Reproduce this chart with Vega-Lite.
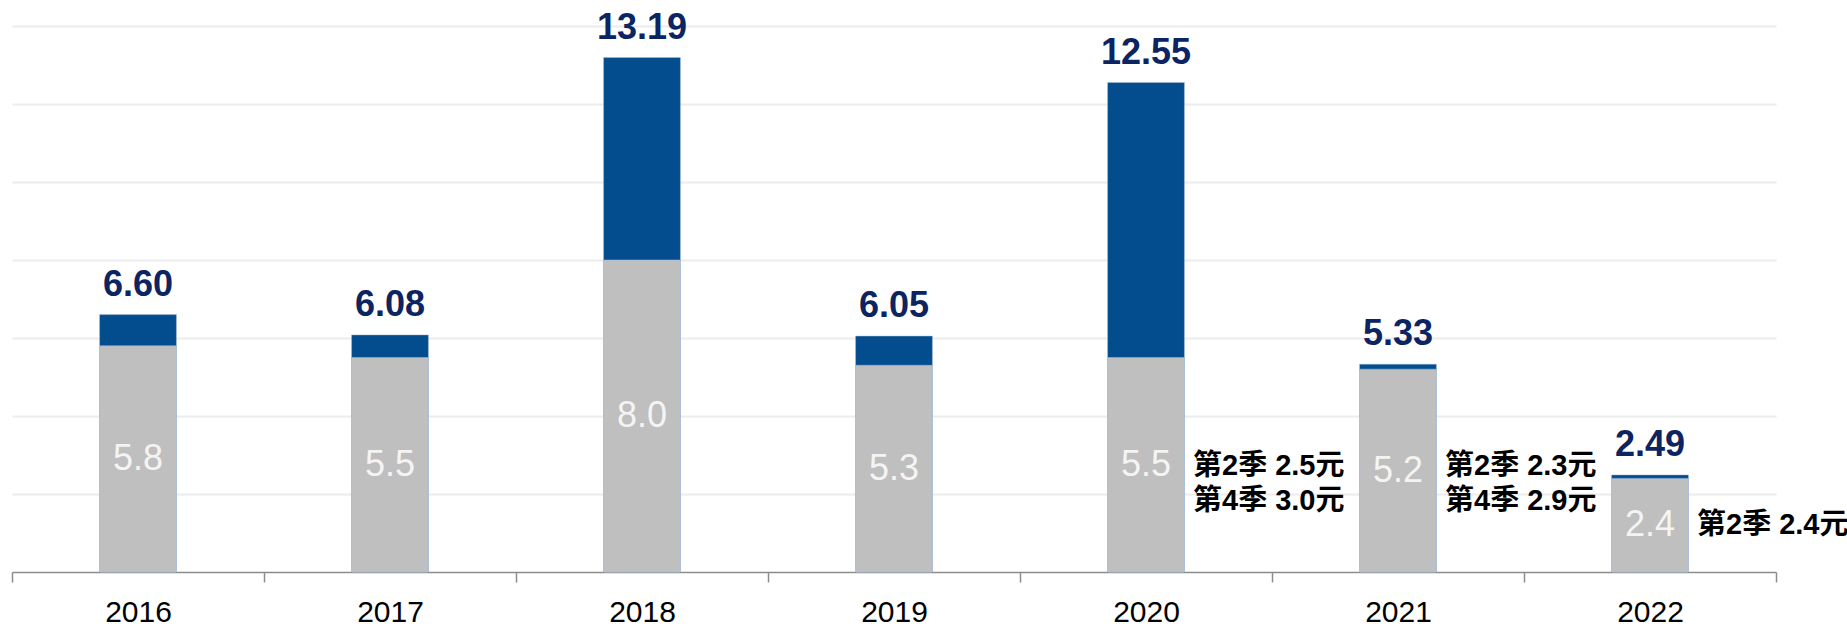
{
  "$schema": "https://vega.github.io/schema/vega-lite/v6.json",
  "width": 1764,
  "height": 546,
  "autosize": {"type": "none"},
  "padding": {"left": 12, "top": 26, "right": 71, "bottom": 55},
  "background": "white",
  "config": {"view": {"stroke": null}},
  "datasets": {
    "bars": [
      {"year": "2016", "base": 5.8, "total": 6.60},
      {"year": "2017", "base": 5.5, "total": 6.08},
      {"year": "2018", "base": 8.0, "total": 13.19},
      {"year": "2019", "base": 5.3, "total": 6.05},
      {"year": "2020", "base": 5.5, "total": 12.55},
      {"year": "2021", "base": 5.2, "total": 5.33},
      {"year": "2022", "base": 2.4, "total": 2.49}
    ],
    "notes": [
      {"year": "2020", "at": 2.73, "note": "第2季 2.5元\n第4季 3.0元"},
      {"year": "2021", "at": 2.73, "note": "第2季 2.3元\n第4季 2.9元"},
      {"year": "2022", "at": 1.2, "note": "第2季 2.4元"}
    ]
  },
  "data": {"name": "bars"},
  "encoding": {
    "x": {
      "field": "year", "type": "nominal", "sort": null,
      "scale": {"paddingInner": 0, "paddingOuter": 0},
      "axis": {
        "title": null, "tickBand": "extent", "labelAngle": 0,
        "labelFontSize": 30, "labelFont": "Liberation Sans", "labelColor": "#000000",
        "labelPadding": 15, "tickSize": 10, "tickColor": "#8c8c8c", "tickWidth": 1.5,
        "domainColor": "#8c8c8c", "domainWidth": 1.5, "grid": false
      }
    }
  },
  "layer": [
    {
      "mark": {"type": "bar", "width": {"band": 0.305}, "color": "#bfbfbf", "stroke": "#a9bcd6", "strokeWidth": 1},
      "encoding": {
        "y": {
          "field": "base", "type": "quantitative",
          "scale": {"domain": [0, 14], "nice": false, "zero": true},
          "axis": {"values": [2, 4, 6, 8, 10, 12, 14], "grid": true, "gridColor": "#ececec", "gridWidth": 2,
                   "labels": false, "ticks": false, "domain": false, "title": null}
        }
      }
    },
    {
      "mark": {"type": "bar", "width": {"band": 0.305}, "color": "#034d8e", "stroke": "#a9bcd6", "strokeWidth": 0.5},
      "encoding": {
        "y": {"field": "base", "type": "quantitative"},
        "y2": {"field": "total"}
      }
    },
    {
      "mark": {"type": "text", "font": "Liberation Sans", "fontWeight": "bold", "fontSize": 36, "color": "#0c2461", "baseline": "alphabetic", "align": "center", "dy": -19},
      "encoding": {
        "y": {"field": "total", "type": "quantitative"},
        "text": {"field": "total", "type": "quantitative", "format": ".2f"}
      }
    },
    {
      "transform": [{"calculate": "datum.base/2", "as": "mid"}],
      "mark": {"type": "text", "font": "Liberation Sans", "fontSize": 36, "color": "#f4f4f4", "baseline": "middle", "align": "center"},
      "encoding": {
        "y": {"field": "mid", "type": "quantitative"},
        "text": {"field": "base", "type": "quantitative", "format": ".1f"}
      }
    },
    {
      "data": {"name": "notes"},
      "mark": {"type": "text", "font": "Liberation Sans, Noto Sans CJK TC", "fontWeight": "bold", "fontSize": 29, "color": "#000000", "baseline": "middle", "align": "left", "dx": 47, "lineBreak": "\n", "lineHeight": 35},
      "encoding": {
        "y": {"field": "at", "type": "quantitative"},
        "text": {"field": "note", "type": "nominal"}
      }
    }
  ]
}
